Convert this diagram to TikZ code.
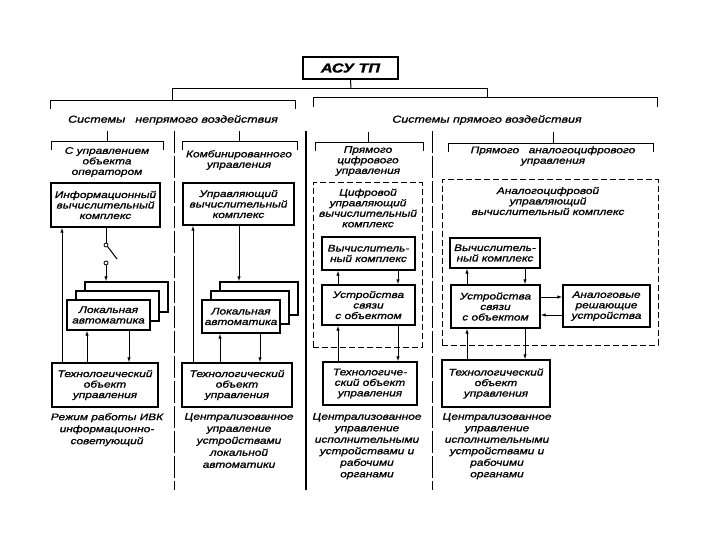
\documentclass[tikz,border=0pt]{standalone}
\usepackage{fontspec}
\setmainfont{Liberation Sans}[FakeStretch=1.25, FakeBold=1.2]
\usetikzlibrary{arrows.meta}
\tikzset{
  blk/.style={draw, line width=1.4pt, fill=white, align=center, inner sep=1pt,
    font=\itshape\fontsize{9.5}{10.5}\selectfont},
  frm/.style={draw, line width=1pt, dash pattern=on 6pt off 3pt},
  arr/.style={line width=0.9pt, -{Latex[length=5pt,width=3.5pt]}},
  lin/.style={line width=1pt},
  sep/.style={line width=1pt, dash pattern=on 22pt off 3pt},
  txt/.style={align=center, inner sep=0pt, font=\itshape\fontsize{9.5}{10.5}\selectfont},
  capt/.style={txt, anchor=north, font=\itshape\fontsize{9.5}{12}\selectfont},
  swc/.style={circle, draw, line width=0.8pt, inner sep=0pt, minimum size=4pt},
}
\begin{document}
\begin{tikzpicture}[x=1pt, y=-1pt]
    \useasboundingbox (0,0) rectangle (720,540);

    % head and brackets
    \node[blk, minimum width=95pt, minimum height=22pt,
      font=\bfseries\itshape\fontsize{13}{13}\selectfont] (asu) at (350.5,68) {АСУ ТП};
    \coordinate (top) at (351,89);
    \draw[lin] (asu.south) -- (top);
    \draw[lin] (172,101) -- (172,89) -- (487,89) -- (487,98);
    \draw[lin] (50,109) -- (50,101) -- (295,101) -- (295,109);
    \draw[lin] (313,107) -- (313,98) -- (657,98) -- (657,107);
    \node[txt, font=\itshape\fontsize{10}{11}\selectfont] (ind) at (173,120) {Системы\quad непрямого воздействия};
    \node[txt, font=\itshape\fontsize{10}{11}\selectfont] (dir) at (487,120) {Системы прямого воздействия};

    \draw[lin] (107,131) -- (107,142);
    \draw[lin] (51,150) -- (51,142) -- (163,142) -- (163,150);
    \draw[lin] (239,131) -- (239,142);
    \draw[lin] (182,150) -- (182,142) -- (297,142) -- (297,150);
    \draw[lin] (368,132) -- (368,143);
    \draw[lin] (315,151) -- (315,143) -- (423,143) -- (423,151);
    \draw[lin] (553,132) -- (553,144);
    \draw[lin] (448,152) -- (448,144) -- (653,144) -- (653,152);

    % separators
    \draw[sep] (174,131) -- (174,490);
    \draw[lin, line width=1.1pt] (306,131) -- (306,490);
    \draw[sep] (432,131) -- (432,490);

    % column 1
    \node[txt] (t1) at (107,162) {С управлением\\объекта\\оператором};
    \node[blk, minimum width=109pt, minimum height=44pt] (ivk) at (105.5,205) {Информационный\\вычислительный\\комплекс};
    \node[blk, minimum width=83pt, minimum height=30pt] (la1c) at (126.5,297) {};
    \node[blk, minimum width=83pt, minimum height=30pt] (la1b) at (117.5,306) {};
    \node[blk, minimum width=83pt, minimum height=30pt] (la1) at (108.5,315) {Локальная\\автоматика};
    \node[blk, minimum width=106pt, minimum height=44pt] (tou1) at (105,385) {Технологический\\объект\\управления};
    \node[swc] (sw1) at (106,245) {};
    \node[swc] (sw2) at (106,263) {};
    \draw[lin] (ivk.south -| sw1) -- (sw1.north);
    \draw[lin] (sw1.south east) -- (117,259);
    \draw[arr] (sw2.south) -- (sw2 |- la1c.north);
    \coordinate (x1a) at (62,0);
    \coordinate (x1b) at (87,0);
    \coordinate (x1c) at (129,0);
    \draw[arr] (tou1.north -| x1a) -- (ivk.south -| x1a);
    \draw[arr] (tou1.north -| x1b) -- (la1.south -| x1b);
    \draw[arr] (la1.south -| x1c) -- (tou1.north -| x1c);
    \node[capt] (c1) at (107,413) {Режим работы ИВК\\информационно-\\советующий};

    % column 2
    \node[txt] (t2) at (239,160) {Комбинированного\\управления};
    \node[blk, minimum width=111pt, minimum height=42pt] (uvk) at (238.5,204) {Управляющий\\вычислительный\\комплекс};
    \node[blk, minimum width=78pt, minimum height=33pt] (la2c) at (259,298.5) {};
    \node[blk, minimum width=78pt, minimum height=33pt] (la2b) at (250,307.5) {};
    \node[blk, minimum width=78pt, minimum height=33pt] (la2) at (241,316.5) {Локальная\\автоматика};
    \node[blk, minimum width=110pt, minimum height=44pt] (tou2) at (237,385) {Технологический\\объект\\управления};
    \coordinate (x2a) at (193,0);
    \coordinate (x2b) at (220,0);
    \coordinate (x2c) at (260,0);
    \coordinate (x2d) at (239,0);
    \draw[arr] (uvk.south -| x2d) -- (la2c.north -| x2d);
    \draw[arr] (tou2.north -| x2a) -- (uvk.south -| x2a);
    \draw[arr] (tou2.north -| x2b) -- (la2.south -| x2b);
    \draw[arr] (la2.south -| x2c) -- (tou2.north -| x2c);
    \node[capt] (c2) at (239,413) {Централизованное\\управление\\устройствами\\локальной\\автоматики};

    % column 3
    \node[txt] (t3) at (368,161) {Прямого\\цифрового\\управления};
    \node[frm, minimum width=109pt, minimum height=164pt] (f3) at (367.5,265) {};
    \node[txt] (n3) at (368,208) {Цифровой\\управляющий\\вычислительный\\комплекс};
    \node[blk, minimum width=93pt, minimum height=33pt] (vk3) at (368.5,253.5) {Вычислитель-\\ный комплекс};
    \node[blk, minimum width=93pt, minimum height=40pt] (uso3) at (368.5,305) {Устройства\\связи\\с объектом};
    \node[blk, minimum width=94pt, minimum height=43pt] (tou3) at (370,383.5) {Технологиче-\\ский объект\\управления};
    \coordinate (x3a) at (338,0);
    \coordinate (x3b) at (398,0);
    \draw[arr] (uso3.north -| x3a) -- (vk3.south -| x3a);
    \draw[arr] (vk3.south -| x3b) -- (uso3.north -| x3b);
    \draw[arr] (tou3.north -| x3a) -- (uso3.south -| x3a);
    \draw[arr] (uso3.south -| x3b) -- (tou3.north -| x3b);
    \node[capt, font=\itshape\fontsize{9.5}{11.5}\selectfont] (c3) at (367,413) {Централизованное\\управление\\исполнительными\\устройствами и\\рабочими\\органами};

    % column 4
    \node[txt] (t4) at (553,156) {Прямого\quad аналогоцифрового\\управления};
    \node[frm, minimum width=216pt, minimum height=165pt] (f4) at (550,262.5) {};
    \node[txt] (n4) at (548,201) {Аналогоцифровой\\управляющий\\вычислительный комплекс};
    \node[blk, minimum width=90pt, minimum height=30pt] (vk4) at (495,253) {Вычислитель-\\ный комплекс};
    \node[blk, minimum width=89pt, minimum height=43pt] (uso4) at (495.5,306.5) {Устройства\\связи\\с объектом};
    \node[blk, minimum width=87pt, minimum height=42pt] (an4) at (606.5,306) {Аналоговые\\решающие\\устройства};
    \node[blk, minimum width=108pt, minimum height=47pt] (tou4) at (496,383.5) {Технологический\\объект\\управления};
    \coordinate (x4a) at (467,0);
    \coordinate (x4b) at (525,0);
    \coordinate (y4a) at (0,297);
    \coordinate (y4b) at (0,315);
    \draw[arr] (uso4.north -| x4a) -- (vk4.south -| x4a);
    \draw[arr] (vk4.south -| x4b) -- (uso4.north -| x4b);
    \draw[arr] (tou4.north -| x4a) -- (uso4.south -| x4a);
    \draw[arr] (uso4.south -| x4b) -- (tou4.north -| x4b);
    \draw[arr] (uso4.east |- y4a) -- (an4.west |- y4a);
    \draw[arr] (an4.west |- y4b) -- (uso4.east |- y4b);
    \node[capt, font=\itshape\fontsize{9.5}{11.5}\selectfont] (c4) at (497,413) {Централизованное\\управление\\исполнительными\\устройствами и\\рабочими\\органами};
\end{tikzpicture}
\end{document}
